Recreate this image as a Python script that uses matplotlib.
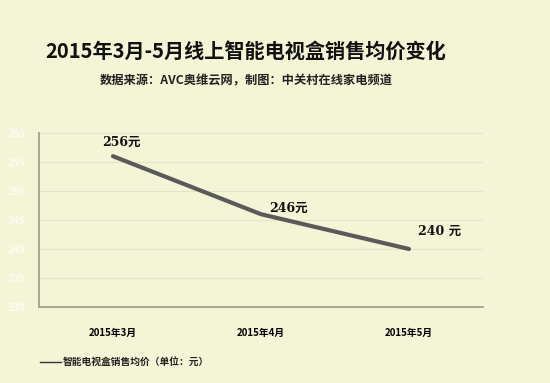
import matplotlib.pyplot as plt

plt.rcParams["font.family"] = ["Noto Sans CJK SC", "DejaVu Sans"]

months = ["2015年3月", "2015年4月", "2015年5月"]
prices = [256, 246, 240]
value_labels = ["256元", "246元", "240 元"]
y_ticks = [230, 235, 240, 245, 250, 255, 260]

bg = "#F4F4D6"
fig = plt.figure(figsize=(5.5, 3.83), dpi=100, facecolor=bg)
ax = fig.add_axes([39 / 550, 1 - 307 / 383, 444 / 550, 174 / 383], facecolor=bg)

x = list(range(len(months)))
ax.plot(x, prices, color="#5A5A5A", lw=3, solid_capstyle="round")
ax.set_xlim(-0.5, len(months) - 0.5)
ax.set_ylim(230, 260)
ax.set_yticks(y_ticks)
ax.set_xticks(x)
ax.set_xticklabels(months, fontsize=7, fontweight="bold")
ax.tick_params(axis="x", length=0, pad=15)
ax.tick_params(axis="y", length=0, pad=10, labelcolor="white", labelsize=7.5)
ax.grid(axis="y", color="#E4E4C8", lw=0.8)
ax.set_axisbelow(True)
for s in ["top", "right"]:
    ax.spines[s].set_visible(False)
for s in ["left", "bottom"]:
    ax.spines[s].set_color("#9A9A8A")
    ax.spines[s].set_linewidth(1.2)

offsets = [(6, 10), (20, 4), (22, 13)]
for xi, yi, lab, off in zip(x, prices, value_labels, offsets):
    ax.annotate(lab, (xi, yi), xytext=off, textcoords="offset points",
                ha="center", va="center", fontsize=9, fontweight="bold",
                family=["DejaVu Serif", "Noto Sans CJK SC"], color="#111111")

fig.text(246 / 550, 1 - 51 / 383, "2015年3月-5月线上智能电视盒销售均价变化",
         ha="center", va="center", fontsize=14.5, fontweight="bold", color="#111111")
fig.text(246 / 550, 1 - 81 / 383, "数据来源：AVC奥维云网，制图：中关村在线家电频道",
         ha="center", va="center", fontsize=8.8, fontweight="bold", color="#222222")

fig.lines.append(plt.Line2D([40 / 550, 61 / 550], [1 - 362 / 383] * 2,
                            transform=fig.transFigure, color="#333333", lw=1))
fig.text(63 / 550, 1 - 362 / 383, "智能电视盒销售均价（单位：元）",
         ha="left", va="center", fontsize=7, fontweight="bold", color="#222222")

fig.savefig("out.png", dpi=100, facecolor=bg)
